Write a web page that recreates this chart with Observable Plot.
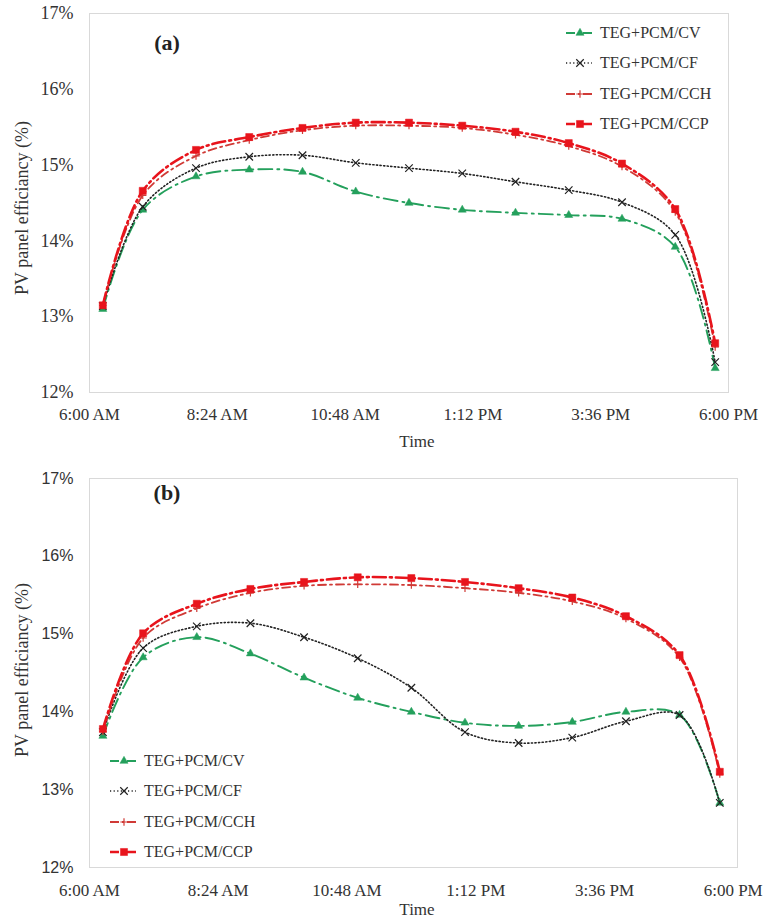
<!DOCTYPE html>
<html><head><meta charset="utf-8">
<script src="https://cdn.jsdelivr.net/npm/d3@7"></script>
<script src="https://cdn.jsdelivr.net/npm/@observablehq/plot@0.6"></script>
<style>
body{margin:0;background:#fff;width:763px;height:919px;position:relative;overflow:hidden;font-family:"Liberation Serif",serif;color:#333;}
.panel{position:absolute;left:0;width:763px;}
.ylab{position:absolute;white-space:nowrap;font-size:18px;transform:translate(-50%,-50%) rotate(-90deg);}
.xlab{position:absolute;white-space:nowrap;font-size:17px;transform:translate(-50%,-50%);}
.tag{position:absolute;font-weight:bold;font-size:22px;color:#222;transform:translate(-50%,-50%);}
.leg{position:absolute;}
.leg div{height:30.3px;display:flex;align-items:center;font-size:16px;white-space:nowrap;}
.leg svg{margin-right:4px;}
</style></head><body>
<div id="a" class="panel" style="top:0"></div>
<div id="b" class="panel" style="top:460px"></div>
<script>
// ---------- data ----------
const times = [6.25, 7, 8, 9, 10, 11, 12, 13, 14, 15, 16, 17, 17.75];
const seriesNames = ["TEG+PCM/CV", "TEG+PCM/CF", "TEG+PCM/CCH", "TEG+PCM/CCP"];
const xTicks = [6, 8.4, 10.8, 13.2, 15.6, 18];
const xTickLabels = ["6:00 AM", "8:24 AM", "10:48 AM", "1:12 PM", "3:36 PM", "6:00 PM"];
const yTicks = [12, 13, 14, 15, 16, 17];
const yTickLabels = ["12%", "13%", "14%", "15%", "16%", "17%"];

// panel (a)
const aCV  = [13.10, 14.41, 14.85, 14.94, 14.91, 14.65, 14.50, 14.41, 14.37, 14.34, 14.29, 13.92, 12.32];
const aCF  = [13.14, 14.45, 14.96, 15.11, 15.13, 15.03, 14.96, 14.89, 14.78, 14.67, 14.51, 14.08, 12.40];
const aCCH = [13.15, 14.60, 15.12, 15.33, 15.46, 15.52, 15.52, 15.49, 15.40, 15.25, 14.98, 14.38, 12.60];
const aCCP = [13.15, 14.66, 15.20, 15.37, 15.49, 15.56, 15.56, 15.52, 15.44, 15.29, 15.02, 14.42, 12.65];
// panel (b)
const bCV  = [13.69, 14.70, 14.96, 14.75, 14.44, 14.18, 14.00, 13.86, 13.82, 13.87, 14.00, 13.96, 12.83];
const bCF  = [13.74, 14.82, 15.10, 15.14, 14.96, 14.69, 14.31, 13.74, 13.60, 13.67, 13.88, 13.96, 12.83];
const bCCH = [13.75, 14.95, 15.33, 15.53, 15.62, 15.64, 15.63, 15.59, 15.53, 15.42, 15.20, 14.70, 13.20];
const bCCP = [13.78, 15.01, 15.39, 15.58, 15.67, 15.73, 15.72, 15.67, 15.59, 15.47, 15.23, 14.73, 13.23];

// ---------- styles ----------
const symbolMap = {triangle: d3.symbolTriangle, times: d3.symbolTimes, plus: d3.symbolPlus, square: d3.symbolSquare};
const styles = {
  "TEG+PCM/CV":  {stroke: "#24a05c", dash: "14,5,2,5", width: 1.9, symbol: "triangle", r: 3,   fill: "#24a05c"},
  "TEG+PCM/CF":  {stroke: "#222",    dash: "1.2,2.4",  width: 1.6, symbol: "times",    r: 3.5, fill: "none"},
  "TEG+PCM/CCH": {stroke: "#d03a36", dash: "8,4,2,4",  width: 1.8, symbol: "plus",     r: 2.5, fill: "none"},
  "TEG+PCM/CCP": {stroke: "#e8141c", dash: "13,4,2,4", width: 2.6, symbol: "square",   r: 4,   fill: "#e8141c"}
};

function table(cv, cf, cch, ccp) {
  const rows = [];
  [cv, cf, cch, ccp].forEach((vals, k) => {
    vals.forEach((v, i) => rows.push({series: seriesNames[k], t: times[i], v}));
  });
  return rows;
}

function makePlot(rows, opts) {
  const marks = [Plot.frame({stroke: "#d9d9d9"})];
  for (const name of seriesNames) {
    const s = styles[name];
    const d = rows.filter(r => r.series === name);
    marks.push(Plot.line(d, {x: "t", y: "v", stroke: s.stroke, strokeWidth: s.width, strokeDasharray: s.dash, curve: "catmull-rom"}));
    marks.push(Plot.dot(d, {x: "t", y: "v", symbol: () => s.symbol, r: s.r, fill: s.fill, stroke: s.stroke, strokeWidth: s.fill === "none" ? 1.2 : 0.5}));
  }
  marks.push(Plot.axisX({ticks: xTicks, tickFormat: d => xTickLabels[xTicks.indexOf(d)], tickSize: 0, tickPadding: opts.xPad, label: null, fontSize: 17, fontFamily: "Liberation Serif"}));
  marks.push(Plot.axisY({ticks: yTicks, tickFormat: d => yTickLabels[yTicks.indexOf(d)], tickSize: 0, tickPadding: 16, label: null, fontSize: opts.yFontSize, fontFamily: opts.yFont}));
  return Plot.plot({
    width: 763, height: opts.height,
    marginLeft: 89, marginRight: opts.mr, marginTop: opts.mt, marginBottom: opts.mb,
    x: {domain: opts.xdomain},
    y: {domain: [12, 17]},
    style: {fontFamily: "Liberation Serif", fontSize: "17px", color: "#333", background: "#fff", overflow: "visible"},
    marks
  });
}

function legendHTML(left, top) {
  const div = document.createElement("div");
  div.className = "leg";
  div.style.left = left + "px";
  div.style.top = top + "px";
  const ns = "http://www.w3.org/2000/svg";
  for (const name of seriesNames) {
    const s = styles[name];
    const row = document.createElement("div");
    const svg = document.createElementNS(ns, "svg");
    svg.setAttribute("width", 32); svg.setAttribute("height", 14);
    const ln = document.createElementNS(ns, "line");
    ln.setAttribute("x1", 2); ln.setAttribute("x2", 28); ln.setAttribute("y1", 7); ln.setAttribute("y2", 7);
    ln.setAttribute("stroke", s.stroke); ln.setAttribute("stroke-width", s.width);
    ln.setAttribute("stroke-dasharray", name === "TEG+PCM/CF" ? s.dash : "9,3,2,3");
    svg.appendChild(ln);
    const sym = document.createElementNS(ns, "path");
    sym.setAttribute("d", d3.symbol(symbolMap[s.symbol], Math.PI * s.r * s.r)());
    sym.setAttribute("transform", "translate(16,7)");
    sym.setAttribute("fill", s.fill); sym.setAttribute("stroke", s.stroke); sym.setAttribute("stroke-width", s.fill === "none" ? 1.2 : 0.5);
    svg.appendChild(sym);
    row.appendChild(svg);
    row.appendChild(document.createTextNode(name));
    div.appendChild(row);
  }
  return div;
}

const pa = makePlot(table(aCV, aCF, aCCH, aCCP), {height: 460, mt: 13, mb: 68, mr: 35, xdomain: [6, 18], xPad: 15, yFont: "Liberation Serif", yFontSize: 18});
document.getElementById("a").appendChild(pa);
const pb = makePlot(table(bCV, bCF, bCCH, bCCP), {height: 459, mt: 18, mb: 52, mr: 26, xdomain: [6, 18.08], xPad: 16, yFont: "Liberation Sans", yFontSize: 16});
document.getElementById("b").appendChild(pb);

// annotations
function addText(cls, text, x, y) {
  const el = document.createElement("div");
  el.className = cls; el.textContent = text;
  el.style.left = x + "px"; el.style.top = y + "px";
  document.body.appendChild(el);
}
addText("tag", "(a)", 167, 43);
addText("tag", "(b)", 167, 493);
addText("ylab", "PV panel efficiancy (%)", 22, 208);
addText("ylab", "PV panel efficiancy (%)", 22, 670);
addText("xlab", "Time", 417, 442);
addText("xlab", "Time", 417, 910);
document.body.appendChild(legendHTML(564, 18));
document.body.appendChild(legendHTML(108, 746));
</script>
</body></html>
